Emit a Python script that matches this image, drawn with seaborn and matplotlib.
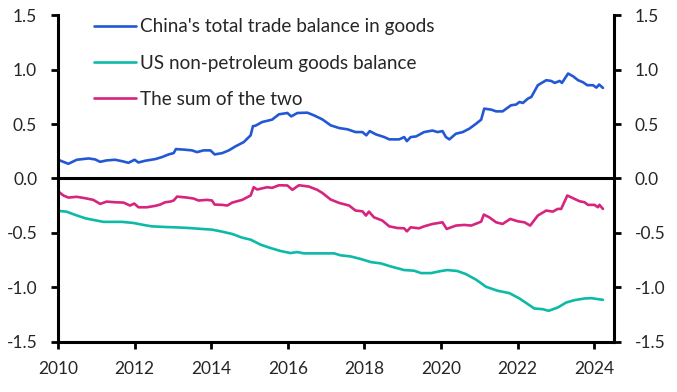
import matplotlib
matplotlib.use("Agg")
import matplotlib.pyplot as plt
import seaborn as sns

# China's total trade balance in goods (% of world GDP)
china_t = [2010.00, 2010.27, 2010.49, 2010.80, 2010.97, 2011.10, 2011.27, 2011.49, 2011.67, 2011.84,
           2012.00, 2012.10, 2012.28, 2012.54, 2012.71, 2012.89, 2013.02, 2013.08, 2013.32, 2013.50,
           2013.63, 2013.80, 2013.98, 2014.09, 2014.29, 2014.46, 2014.63, 2014.85, 2015.03, 2015.09,
           2015.16, 2015.33, 2015.59, 2015.77, 2015.99, 2016.09, 2016.25, 2016.51, 2016.68, 2016.90,
           2017.12, 2017.34, 2017.56, 2017.77, 2017.95, 2018.05, 2018.14, 2018.30, 2018.52, 2018.65,
           2018.91, 2019.04, 2019.11, 2019.21, 2019.35, 2019.56, 2019.78, 2019.91, 2020.04, 2020.13,
           2020.22, 2020.39, 2020.57, 2020.74, 2020.92, 2021.05, 2021.13, 2021.31, 2021.44, 2021.61,
           2021.83, 2021.96, 2022.05, 2022.14, 2022.27, 2022.36, 2022.53, 2022.75, 2022.88, 2022.97,
           2023.10, 2023.16, 2023.32, 2023.45, 2023.58, 2023.71, 2023.82, 2023.97, 2024.06, 2024.13,
           2024.23]
china_v = [0.172, 0.135, 0.172, 0.184, 0.175, 0.153, 0.166, 0.172, 0.159, 0.144,
           0.172, 0.147, 0.163, 0.178, 0.196, 0.221, 0.233, 0.270, 0.264, 0.258,
           0.242, 0.258, 0.258, 0.221, 0.233, 0.258, 0.294, 0.334, 0.396, 0.480,
           0.485, 0.518, 0.540, 0.589, 0.601, 0.570, 0.601, 0.604, 0.580, 0.543,
           0.488, 0.463, 0.451, 0.426, 0.426, 0.396, 0.435, 0.405, 0.380, 0.359,
           0.359, 0.380, 0.343, 0.380, 0.386, 0.426, 0.440, 0.426, 0.435, 0.380,
           0.359, 0.411, 0.426, 0.457, 0.503, 0.540, 0.641, 0.632, 0.616, 0.616,
           0.672, 0.678, 0.702, 0.693, 0.733, 0.748, 0.856, 0.902, 0.895, 0.877,
           0.895, 0.877, 0.963, 0.938, 0.902, 0.883, 0.856, 0.856, 0.834, 0.862,
           0.831]

# US non-petroleum goods balance
us_t = [2010.00, 2010.22, 2010.45, 2010.71, 2010.92, 2011.19, 2011.67, 2011.97, 2012.23, 2012.45,
        2012.80, 2013.06, 2013.41, 2013.76, 2014.02, 2014.29, 2014.55, 2014.81, 2015.03, 2015.29,
        2015.55, 2015.81, 2016.07, 2016.25, 2016.42, 2017.21, 2017.38, 2017.64, 2017.91, 2018.17,
        2018.43, 2018.69, 2019.04, 2019.30, 2019.48, 2019.74, 2020.00, 2020.17, 2020.43, 2020.65,
        2020.92, 2021.18, 2021.48, 2021.79, 2022.05, 2022.27, 2022.44, 2022.66, 2022.81, 2023.05,
        2023.27, 2023.49, 2023.75, 2023.93, 2024.10, 2024.23]
us_v = [-0.297, -0.304, -0.334, -0.365, -0.380, -0.398, -0.398, -0.408, -0.426, -0.439,
        -0.445, -0.448, -0.454, -0.463, -0.469, -0.488, -0.509, -0.543, -0.561, -0.607,
        -0.638, -0.665, -0.684, -0.675, -0.687, -0.687, -0.705, -0.715, -0.739, -0.767,
        -0.779, -0.807, -0.840, -0.846, -0.868, -0.868, -0.849, -0.840, -0.849, -0.877,
        -0.929, -0.994, -1.030, -1.052, -1.101, -1.153, -1.193, -1.199, -1.214, -1.184,
        -1.138, -1.116, -1.101, -1.098, -1.107, -1.113]

# The sum of the two
sum_t = [2010.00, 2010.14, 2010.27, 2010.49, 2010.71, 2010.92, 2011.10, 2011.27, 2011.49, 2011.71,
         2011.88, 2011.99, 2012.10, 2012.32, 2012.54, 2012.67, 2012.80, 2012.93, 2013.02, 2013.11,
         2013.37, 2013.54, 2013.67, 2013.89, 2014.02, 2014.09, 2014.29, 2014.42, 2014.55, 2014.81,
         2015.03, 2015.11, 2015.20, 2015.46, 2015.59, 2015.77, 2015.99, 2016.12, 2016.29, 2016.55,
         2016.77, 2016.90, 2017.12, 2017.34, 2017.60, 2017.77, 2017.95, 2018.04, 2018.12, 2018.25,
         2018.47, 2018.65, 2018.86, 2019.04, 2019.11, 2019.21, 2019.43, 2019.56, 2019.78, 2020.04,
         2020.15, 2020.39, 2020.61, 2020.79, 2021.05, 2021.12, 2021.26, 2021.44, 2021.61, 2021.81,
         2022.01, 2022.18, 2022.33, 2022.53, 2022.75, 2022.92, 2023.05, 2023.14, 2023.30, 2023.45,
         2023.62, 2023.75, 2023.84, 2024.01, 2024.10, 2024.14, 2024.23]
sum_v = [-0.117, -0.156, -0.175, -0.168, -0.181, -0.196, -0.233, -0.212, -0.218, -0.221,
         -0.248, -0.230, -0.264, -0.264, -0.251, -0.239, -0.218, -0.212, -0.202, -0.166,
         -0.175, -0.184, -0.202, -0.196, -0.202, -0.239, -0.242, -0.248, -0.221, -0.196,
         -0.156, -0.080, -0.101, -0.080, -0.086, -0.062, -0.064, -0.104, -0.062, -0.074,
         -0.104, -0.132, -0.193, -0.224, -0.248, -0.294, -0.301, -0.340, -0.304, -0.356,
         -0.386, -0.439, -0.454, -0.457, -0.485, -0.448, -0.457, -0.439, -0.417, -0.402,
         -0.463, -0.432, -0.426, -0.432, -0.396, -0.331, -0.356, -0.402, -0.417, -0.371,
         -0.393, -0.402, -0.432, -0.340, -0.294, -0.304, -0.279, -0.279, -0.156, -0.181,
         -0.209, -0.218, -0.242, -0.242, -0.264, -0.242, -0.279]

labels = ["China's total trade balance in goods", "US non-petroleum goods balance",
          "The sum of the two"]
colors = ["#2358D4", "#0DBAA8", "#D6247F"]
x_ticks = [2010, 2012, 2014, 2016, 2018, 2020, 2022, 2024]
y_ticks = [-1.5, -1.0, -0.5, 0.0, 0.5, 1.0, 1.5]

sns.set_style("ticks")
plt.rcParams["font.family"] = ["Lato", "DejaVu Sans"]
plt.rcParams["font.size"] = 12.5

fig = plt.figure(figsize=(6.77, 3.92), dpi=100)
ax = fig.add_axes([0.0857, 0.1276, 0.8213, 0.8341])

for t, v, lab, col in zip([china_t, us_t, sum_t], [china_v, us_v, sum_v], labels, colors):
    sns.lineplot(x=t, y=v, ax=ax, color=col, linewidth=1.9, label=lab, estimator=None, sort=False)

ax.axhline(0, color="black", linewidth=2.2, zorder=1)

ax.set_xlim(2010, 2024.52)
ax.set_ylim(-1.5, 1.5)
ax.set_xticks(x_ticks)
ax.set_xticklabels([str(x) for x in x_ticks])
ax.set_yticks(y_ticks)
ax.set_yticklabels([f"{y:.1f}" for y in y_ticks])
ax.set_xlabel("")
ax.set_ylabel("")

for side in ["left", "right", "bottom"]:
    ax.spines[side].set_visible(True)
    ax.spines[side].set_linewidth(2.2)
    ax.spines[side].set_color("black")
ax.spines["top"].set_visible(False)

ax.tick_params(axis="y", which="both", left=True, right=True, labelleft=True, labelright=True,
               direction="out", length=5, width=2, color="black", labelsize=12.5, pad=10)
ax.tick_params(axis="x", direction="out", length=5, width=2, color="black", labelsize=12.5, pad=9)

ax.legend(loc="upper left", bbox_to_anchor=(0.065, 0.99), frameon=False, fontsize=13.6,
          handlelength=2.2, handletextpad=0.22, labelspacing=1.02, borderpad=0, borderaxespad=0)

plt.savefig("out.png", dpi=100)
plt.close()
